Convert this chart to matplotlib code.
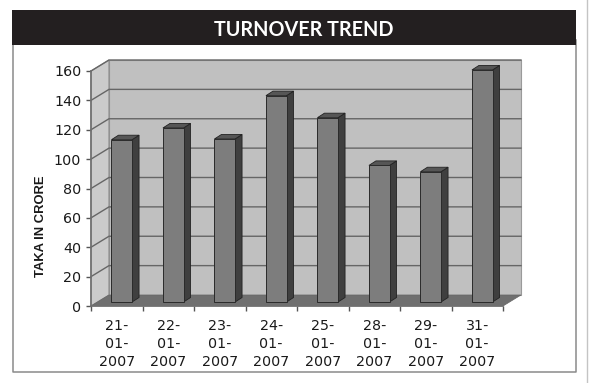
import matplotlib
matplotlib.use("Agg")
import matplotlib.pyplot as plt
from matplotlib.patches import Polygon, Rectangle

dates = ["21-01-2007", "22-01-2007", "23-01-2007", "24-01-2007",
         "25-01-2007", "28-01-2007", "29-01-2007", "31-01-2007"]
turnover = [110.5, 118.5, 111, 140.5, 125.5, 93, 88.7, 158]
yticks = [0, 20, 40, 60, 80, 100, 120, 140, 160]

W, H = 592, 383
plt.rcParams['font.family'] = ['Liberation Sans', 'DejaVu Sans']

fig = plt.figure(figsize=(W / 100, H / 100), dpi=100, facecolor='white')

# page furniture, in pixels
bg = fig.add_axes([0, 0, 1, 1])
bg.set_xlim(0, W)
bg.set_ylim(H, 0)
bg.axis('off')
bg.plot([13, 13, 576, 576], [40, 372, 372, 40], color='#8a8a8a', lw=1.1, zorder=1)
bg.plot([587, 587], [0, H], color='#c4c4c4', lw=1.0, zorder=1)
bg.add_patch(Rectangle((12, 10), 564, 35, color='#231f20', lw=0, zorder=2))
bg.text(303.5, 29.5, "TURNOVER TREND", color='white', ha='center', va='center',
        family='Lato', weight='bold', fontsize=14.2, zorder=3)
bg.text(41, 226, "TAKA IN CRORE", color='#1a1a1a', rotation=90, ha='center', va='center',
        weight='bold', fontsize=9.4)

# axes = front plane of the 3d box
left, right, bottom, top = 91, 503, 306, 71
ax = fig.add_axes([left / W, 1 - bottom / H, (right - left) / W, (bottom - top) / H])
ax.set_xlim(0, 8)
ax.set_ylim(0, 160)
ax.patch.set_alpha(0)
for s in ['top', 'right']:
    ax.spines[s].set_visible(False)
for s in ['left', 'bottom']:
    ax.spines[s].set_color('#707070')
    ax.spines[s].set_linewidth(1.2)

px_x = 8 / (right - left)
px_y = 160 / (bottom - top)
dx, dy = 18 * px_x, 11 * px_y      # box depth
bar_off_x, bar_off_y = 5 * px_x, 4 * px_y
bar_dx, bar_dy = 7 * px_x, 4.5 * px_y
bar_w = 0.4

ax.add_patch(Polygon([(dx, dy), (8 + dx, dy), (8 + dx, 160 + dy), (dx, 160 + dy)],
                     fc='#c0c0c0', ec='#9a9a9a', lw=0.8, clip_on=False, zorder=1))
ax.add_patch(Polygon([(0, 0), (dx, dy), (dx, 160 + dy), (0, 160)],
                     fc='#cbcbcb', ec='#8a8a8a', lw=0.8, clip_on=False, zorder=1))
ax.add_patch(Polygon([(0, 0), (8, 0), (8 + dx, dy), (dx, dy)],
                     fc='#6f6f6f', ec='#666666', lw=0.5, clip_on=False, zorder=2))
for v in yticks[1:]:
    ax.plot([0, dx, 8 + dx], [v, v + dy, v + dy], color='#666666', lw=1.0,
            clip_on=False, zorder=2)

for i, v in enumerate(turnover):
    x0 = i + 0.5 - bar_w / 2 + bar_off_x
    x1 = x0 + bar_w
    y0 = bar_off_y
    y1 = v + bar_off_y
    z = 3 + i * 0.01
    ax.add_patch(Polygon([(x1, y0), (x1 + bar_dx, y0 + bar_dy), (x1 + bar_dx, y1 + bar_dy), (x1, y1)],
                         fc='#3f3f3f', ec='#222222', lw=0.6, clip_on=False, zorder=z))
    ax.add_patch(Polygon([(x0, y1), (x1, y1), (x1 + bar_dx, y1 + bar_dy), (x0 + bar_dx, y1 + bar_dy)],
                         fc='#565656', ec='#222222', lw=0.6, clip_on=False, zorder=z))
    ax.add_patch(Polygon([(x0, y0), (x1, y0), (x1, y1), (x0, y1)],
                         fc='#7d7d7d', ec='#2a2a2a', lw=0.7, clip_on=False, zorder=z))

ax.set_yticks(yticks)
ax.set_xticks(range(9))
ax.set_xticklabels([])
ax.tick_params(axis='both', length=3.5, width=1, color='#555555', pad=3.5)
ax.tick_params(axis='y', labelsize=10.3, labelcolor='#1a1a1a', labelfontfamily='DejaVu Sans')

labels = [d[:3] + "\n" + d[3:6] + "\n" + d[6:] for d in dates]
ax.set_xticks([i + 0.5 for i in range(8)], labels=labels, minor=True)
ax.tick_params(axis='x', which='minor', length=0, pad=9, labelsize=10.3,
               labelcolor='#1a1a1a', labelfontfamily='DejaVu Sans')
for t in ax.get_xminorticklabels():
    t.set_linespacing(1.38)

fig.savefig("out.png", dpi=100, facecolor='white')
